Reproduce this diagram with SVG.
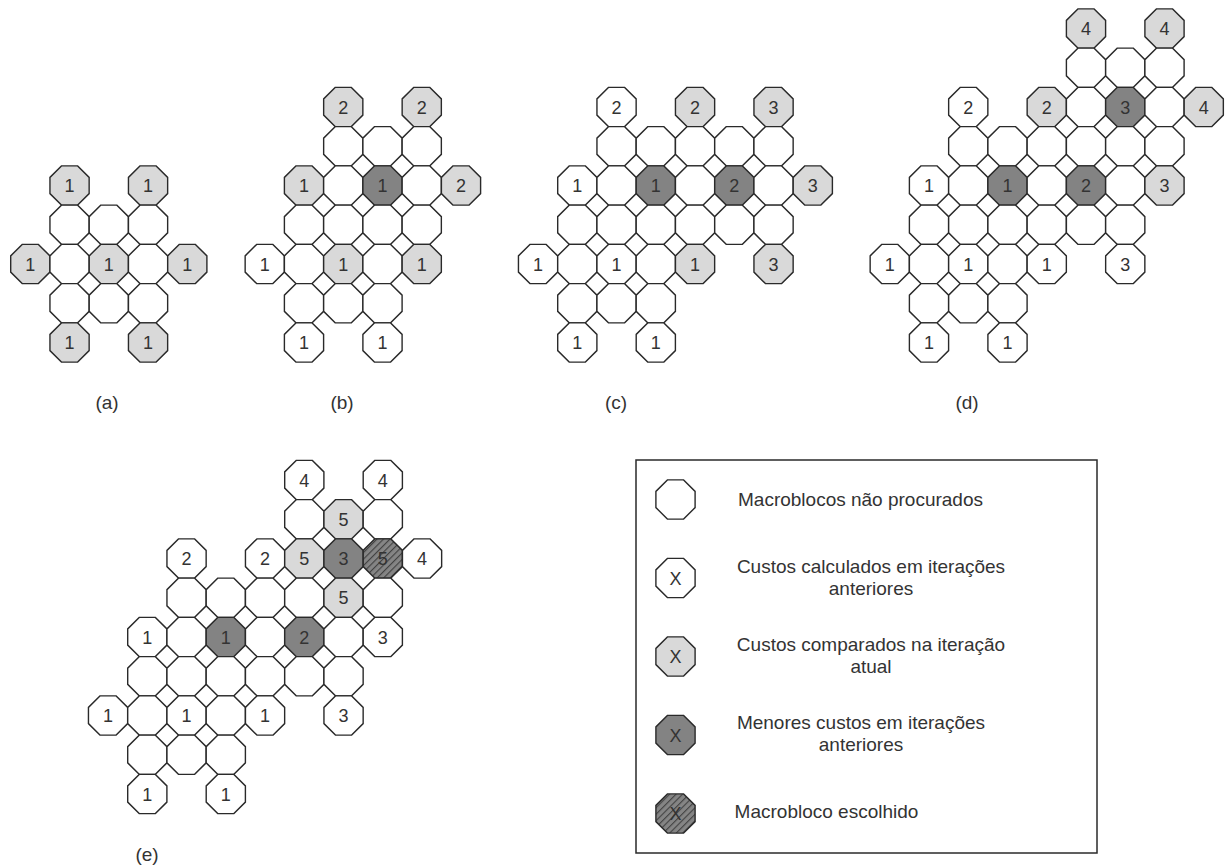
<svg xmlns="http://www.w3.org/2000/svg" xmlns:xlink="http://www.w3.org/1999/xlink" width="1225" height="866" viewBox="0 0 1225 866">
<style>
.w,.l,.d,.h{stroke:#2a2a2a;stroke-width:1.4;stroke-linejoin:miter}
.w{fill:#ffffff}.l{fill:#d9d9d9}.d{fill:#838383}.h{fill:url(#hatch)}
text{font-family:"Liberation Sans",Arial,sans-serif;fill:#333333;text-anchor:middle}
.n{font-size:18px}
.cap{font-size:19px}
.lg{font-size:19px}
</style>
<defs>
<polygon id="o" points="-8.1,-19.6 8.1,-19.6 19.6,-8.1 19.6,8.1 8.1,19.6 -8.1,19.6 -19.6,8.1 -19.6,-8.1"/>
<pattern id="hatch" patternUnits="userSpaceOnUse" width="4.6" height="4.6" patternTransform="rotate(45)">
<rect width="4.6" height="4.6" fill="#858585"/>
<line x1="0.6" y1="0" x2="0.6" y2="4.6" stroke="#3a3a3a" stroke-width="1"/>
</pattern>
</defs>
<rect width="1225" height="866" fill="#ffffff"/>
<g id="connectors"></g>

<!-- Panel (a) -->
<g id="panel-a">
<g id="a-r-2c-1" transform="translate(69.55,185.5)"><use href="#o" class="l"/><text class="n" y="6.5">1</text></g>
<g id="a-r-2c1" transform="translate(148.05,185.5)"><use href="#o" class="l"/><text class="n" y="6.5">1</text></g>
<g id="a-r-1c-1" transform="translate(69.55,224.75)"><use href="#o" class="w"/></g>
<g id="a-r-1c0" transform="translate(108.8,224.75)"><use href="#o" class="w"/></g>
<g id="a-r-1c1" transform="translate(148.05,224.75)"><use href="#o" class="w"/></g>
<g id="a-r0c-2" transform="translate(30.3,264)"><use href="#o" class="l"/><text class="n" y="6.5">1</text></g>
<g id="a-r0c-1" transform="translate(69.55,264)"><use href="#o" class="w"/></g>
<g id="a-r0c0" transform="translate(108.8,264)"><use href="#o" class="l"/><text class="n" y="6.5">1</text></g>
<g id="a-r0c1" transform="translate(148.05,264)"><use href="#o" class="w"/></g>
<g id="a-r0c2" transform="translate(187.3,264)"><use href="#o" class="l"/><text class="n" y="6.5">1</text></g>
<g id="a-r1c-1" transform="translate(69.55,303.25)"><use href="#o" class="w"/></g>
<g id="a-r1c0" transform="translate(108.8,303.25)"><use href="#o" class="w"/></g>
<g id="a-r1c1" transform="translate(148.05,303.25)"><use href="#o" class="w"/></g>
<g id="a-r2c-1" transform="translate(69.55,342.5)"><use href="#o" class="l"/><text class="n" y="6.5">1</text></g>
<g id="a-r2c1" transform="translate(148.05,342.5)"><use href="#o" class="l"/><text class="n" y="6.5">1</text></g>
<text id="cap-a" class="cap" x="107" y="409">(a)</text>
</g>

<!-- Panel (b) -->
<g id="panel-b">
<g id="b-r-2c-1" transform="translate(343.25,107)"><use href="#o" class="l"/><text class="n" y="6.5">2</text></g>
<g id="b-r-2c1" transform="translate(421.75,107)"><use href="#o" class="l"/><text class="n" y="6.5">2</text></g>
<g id="b-r-1c-1" transform="translate(343.25,146.25)"><use href="#o" class="w"/></g>
<g id="b-r-1c0" transform="translate(382.5,146.25)"><use href="#o" class="w"/></g>
<g id="b-r-1c1" transform="translate(421.75,146.25)"><use href="#o" class="w"/></g>
<g id="b-r0c-2" transform="translate(304,185.5)"><use href="#o" class="l"/><text class="n" y="6.5">1</text></g>
<g id="b-r0c-1" transform="translate(343.25,185.5)"><use href="#o" class="w"/></g>
<g id="b-r0c0" transform="translate(382.5,185.5)"><use href="#o" class="d"/><text class="n" y="6.5">1</text></g>
<g id="b-r0c1" transform="translate(421.75,185.5)"><use href="#o" class="w"/></g>
<g id="b-r0c2" transform="translate(461,185.5)"><use href="#o" class="l"/><text class="n" y="6.5">2</text></g>
<g id="b-r1c-2" transform="translate(304,224.75)"><use href="#o" class="w"/></g>
<g id="b-r1c-1" transform="translate(343.25,224.75)"><use href="#o" class="w"/></g>
<g id="b-r1c0" transform="translate(382.5,224.75)"><use href="#o" class="w"/></g>
<g id="b-r1c1" transform="translate(421.75,224.75)"><use href="#o" class="w"/></g>
<g id="b-r2c-3" transform="translate(264.75,264)"><use href="#o" class="w"/><text class="n" y="6.5">1</text></g>
<g id="b-r2c-2" transform="translate(304,264)"><use href="#o" class="w"/></g>
<g id="b-r2c-1" transform="translate(343.25,264)"><use href="#o" class="l"/><text class="n" y="6.5">1</text></g>
<g id="b-r2c0" transform="translate(382.5,264)"><use href="#o" class="w"/></g>
<g id="b-r2c1" transform="translate(421.75,264)"><use href="#o" class="l"/><text class="n" y="6.5">1</text></g>
<g id="b-r3c-2" transform="translate(304,303.25)"><use href="#o" class="w"/></g>
<g id="b-r3c-1" transform="translate(343.25,303.25)"><use href="#o" class="w"/></g>
<g id="b-r3c0" transform="translate(382.5,303.25)"><use href="#o" class="w"/></g>
<g id="b-r4c-2" transform="translate(304,342.5)"><use href="#o" class="w"/><text class="n" y="6.5">1</text></g>
<g id="b-r4c0" transform="translate(382.5,342.5)"><use href="#o" class="w"/><text class="n" y="6.5">1</text></g>
<text id="cap-b" class="cap" x="342" y="409">(b)</text>
</g>

<!-- Panel (c) -->
<g id="panel-c">
<g id="c-r-2c-1" transform="translate(616.55,107)"><use href="#o" class="w"/><text class="n" y="6.5">2</text></g>
<g id="c-r-2c1" transform="translate(695.05,107)"><use href="#o" class="l"/><text class="n" y="6.5">2</text></g>
<g id="c-r-2c3" transform="translate(773.55,107)"><use href="#o" class="l"/><text class="n" y="6.5">3</text></g>
<g id="c-r-1c-1" transform="translate(616.55,146.25)"><use href="#o" class="w"/></g>
<g id="c-r-1c0" transform="translate(655.8,146.25)"><use href="#o" class="w"/></g>
<g id="c-r-1c1" transform="translate(695.05,146.25)"><use href="#o" class="w"/></g>
<g id="c-r-1c2" transform="translate(734.3,146.25)"><use href="#o" class="w"/></g>
<g id="c-r-1c3" transform="translate(773.55,146.25)"><use href="#o" class="w"/></g>
<g id="c-r0c-2" transform="translate(577.3,185.5)"><use href="#o" class="w"/><text class="n" y="6.5">1</text></g>
<g id="c-r0c-1" transform="translate(616.55,185.5)"><use href="#o" class="w"/></g>
<g id="c-r0c0" transform="translate(655.8,185.5)"><use href="#o" class="d"/><text class="n" y="6.5">1</text></g>
<g id="c-r0c1" transform="translate(695.05,185.5)"><use href="#o" class="w"/></g>
<g id="c-r0c2" transform="translate(734.3,185.5)"><use href="#o" class="d"/><text class="n" y="6.5">2</text></g>
<g id="c-r0c3" transform="translate(773.55,185.5)"><use href="#o" class="w"/></g>
<g id="c-r0c4" transform="translate(812.8,185.5)"><use href="#o" class="l"/><text class="n" y="6.5">3</text></g>
<g id="c-r1c-2" transform="translate(577.3,224.75)"><use href="#o" class="w"/></g>
<g id="c-r1c-1" transform="translate(616.55,224.75)"><use href="#o" class="w"/></g>
<g id="c-r1c0" transform="translate(655.8,224.75)"><use href="#o" class="w"/></g>
<g id="c-r1c1" transform="translate(695.05,224.75)"><use href="#o" class="w"/></g>
<g id="c-r1c2" transform="translate(734.3,224.75)"><use href="#o" class="w"/></g>
<g id="c-r1c3" transform="translate(773.55,224.75)"><use href="#o" class="w"/></g>
<g id="c-r2c-3" transform="translate(538.05,264)"><use href="#o" class="w"/><text class="n" y="6.5">1</text></g>
<g id="c-r2c-2" transform="translate(577.3,264)"><use href="#o" class="w"/></g>
<g id="c-r2c-1" transform="translate(616.55,264)"><use href="#o" class="w"/><text class="n" y="6.5">1</text></g>
<g id="c-r2c0" transform="translate(655.8,264)"><use href="#o" class="w"/></g>
<g id="c-r2c1" transform="translate(695.05,264)"><use href="#o" class="l"/><text class="n" y="6.5">1</text></g>
<g id="c-r2c3" transform="translate(773.55,264)"><use href="#o" class="l"/><text class="n" y="6.5">3</text></g>
<g id="c-r3c-2" transform="translate(577.3,303.25)"><use href="#o" class="w"/></g>
<g id="c-r3c-1" transform="translate(616.55,303.25)"><use href="#o" class="w"/></g>
<g id="c-r3c0" transform="translate(655.8,303.25)"><use href="#o" class="w"/></g>
<g id="c-r4c-2" transform="translate(577.3,342.5)"><use href="#o" class="w"/><text class="n" y="6.5">1</text></g>
<g id="c-r4c0" transform="translate(655.8,342.5)"><use href="#o" class="w"/><text class="n" y="6.5">1</text></g>
<text id="cap-c" class="cap" x="616" y="409">(c)</text>
</g>

<!-- Panel (d) -->
<g id="panel-d">
<g id="d-r-4c2" transform="translate(1086,28.5)"><use href="#o" class="l"/><text class="n" y="6.5">4</text></g>
<g id="d-r-4c4" transform="translate(1164.5,28.5)"><use href="#o" class="l"/><text class="n" y="6.5">4</text></g>
<g id="d-r-3c2" transform="translate(1086,67.75)"><use href="#o" class="w"/></g>
<g id="d-r-3c3" transform="translate(1125.25,67.75)"><use href="#o" class="w"/></g>
<g id="d-r-3c4" transform="translate(1164.5,67.75)"><use href="#o" class="w"/></g>
<g id="d-r-2c-1" transform="translate(968.25,107)"><use href="#o" class="w"/><text class="n" y="6.5">2</text></g>
<g id="d-r-2c1" transform="translate(1046.75,107)"><use href="#o" class="l"/><text class="n" y="6.5">2</text></g>
<g id="d-r-2c2" transform="translate(1086,107)"><use href="#o" class="w"/></g>
<g id="d-r-2c3" transform="translate(1125.25,107)"><use href="#o" class="d"/><text class="n" y="6.5">3</text></g>
<g id="d-r-2c4" transform="translate(1164.5,107)"><use href="#o" class="w"/></g>
<g id="d-r-2c5" transform="translate(1203.75,107)"><use href="#o" class="l"/><text class="n" y="6.5">4</text></g>
<g id="d-r-1c-1" transform="translate(968.25,146.25)"><use href="#o" class="w"/></g>
<g id="d-r-1c0" transform="translate(1007.5,146.25)"><use href="#o" class="w"/></g>
<g id="d-r-1c1" transform="translate(1046.75,146.25)"><use href="#o" class="w"/></g>
<g id="d-r-1c2" transform="translate(1086,146.25)"><use href="#o" class="w"/></g>
<g id="d-r-1c3" transform="translate(1125.25,146.25)"><use href="#o" class="w"/></g>
<g id="d-r-1c4" transform="translate(1164.5,146.25)"><use href="#o" class="w"/></g>
<g id="d-r0c-2" transform="translate(929,185.5)"><use href="#o" class="w"/><text class="n" y="6.5">1</text></g>
<g id="d-r0c-1" transform="translate(968.25,185.5)"><use href="#o" class="w"/></g>
<g id="d-r0c0" transform="translate(1007.5,185.5)"><use href="#o" class="d"/><text class="n" y="6.5">1</text></g>
<g id="d-r0c1" transform="translate(1046.75,185.5)"><use href="#o" class="w"/></g>
<g id="d-r0c2" transform="translate(1086,185.5)"><use href="#o" class="d"/><text class="n" y="6.5">2</text></g>
<g id="d-r0c3" transform="translate(1125.25,185.5)"><use href="#o" class="w"/></g>
<g id="d-r0c4" transform="translate(1164.5,185.5)"><use href="#o" class="l"/><text class="n" y="6.5">3</text></g>
<g id="d-r1c-2" transform="translate(929,224.75)"><use href="#o" class="w"/></g>
<g id="d-r1c-1" transform="translate(968.25,224.75)"><use href="#o" class="w"/></g>
<g id="d-r1c0" transform="translate(1007.5,224.75)"><use href="#o" class="w"/></g>
<g id="d-r1c1" transform="translate(1046.75,224.75)"><use href="#o" class="w"/></g>
<g id="d-r1c2" transform="translate(1086,224.75)"><use href="#o" class="w"/></g>
<g id="d-r1c3" transform="translate(1125.25,224.75)"><use href="#o" class="w"/></g>
<g id="d-r2c-3" transform="translate(889.75,264)"><use href="#o" class="w"/><text class="n" y="6.5">1</text></g>
<g id="d-r2c-2" transform="translate(929,264)"><use href="#o" class="w"/></g>
<g id="d-r2c-1" transform="translate(968.25,264)"><use href="#o" class="w"/><text class="n" y="6.5">1</text></g>
<g id="d-r2c0" transform="translate(1007.5,264)"><use href="#o" class="w"/></g>
<g id="d-r2c1" transform="translate(1046.75,264)"><use href="#o" class="w"/><text class="n" y="6.5">1</text></g>
<g id="d-r2c3" transform="translate(1125.25,264)"><use href="#o" class="w"/><text class="n" y="6.5">3</text></g>
<g id="d-r3c-2" transform="translate(929,303.25)"><use href="#o" class="w"/></g>
<g id="d-r3c-1" transform="translate(968.25,303.25)"><use href="#o" class="w"/></g>
<g id="d-r3c0" transform="translate(1007.5,303.25)"><use href="#o" class="w"/></g>
<g id="d-r4c-2" transform="translate(929,342.5)"><use href="#o" class="w"/><text class="n" y="6.5">1</text></g>
<g id="d-r4c0" transform="translate(1007.5,342.5)"><use href="#o" class="w"/><text class="n" y="6.5">1</text></g>
<text id="cap-d" class="cap" x="967" y="409">(d)</text>
</g>

<!-- Panel (e) -->
<g id="panel-e">
<g id="e-r-4c2" transform="translate(304.3,480)"><use href="#o" class="w"/><text class="n" y="6.5">4</text></g>
<g id="e-r-4c4" transform="translate(382.8,480)"><use href="#o" class="w"/><text class="n" y="6.5">4</text></g>
<g id="e-r-3c2" transform="translate(304.3,519.25)"><use href="#o" class="w"/></g>
<g id="e-r-3c3" transform="translate(343.55,519.25)"><use href="#o" class="l"/><text class="n" y="6.5">5</text></g>
<g id="e-r-3c4" transform="translate(382.8,519.25)"><use href="#o" class="w"/></g>
<g id="e-r-2c-1" transform="translate(186.55,558.5)"><use href="#o" class="w"/><text class="n" y="6.5">2</text></g>
<g id="e-r-2c1" transform="translate(265.05,558.5)"><use href="#o" class="w"/><text class="n" y="6.5">2</text></g>
<g id="e-r-2c2" transform="translate(304.3,558.5)"><use href="#o" class="l"/><text class="n" y="6.5">5</text></g>
<g id="e-r-2c3" transform="translate(343.55,558.5)"><use href="#o" class="d"/><text class="n" y="6.5">3</text></g>
<g id="e-r-2c4" transform="translate(382.8,558.5)"><use href="#o" class="h"/><text class="n" y="6.5">5</text></g>
<g id="e-r-2c5" transform="translate(422.05,558.5)"><use href="#o" class="w"/><text class="n" y="6.5">4</text></g>
<g id="e-r-1c-1" transform="translate(186.55,597.75)"><use href="#o" class="w"/></g>
<g id="e-r-1c0" transform="translate(225.8,597.75)"><use href="#o" class="w"/></g>
<g id="e-r-1c1" transform="translate(265.05,597.75)"><use href="#o" class="w"/></g>
<g id="e-r-1c2" transform="translate(304.3,597.75)"><use href="#o" class="w"/></g>
<g id="e-r-1c3" transform="translate(343.55,597.75)"><use href="#o" class="l"/><text class="n" y="6.5">5</text></g>
<g id="e-r-1c4" transform="translate(382.8,597.75)"><use href="#o" class="w"/></g>
<g id="e-r0c-2" transform="translate(147.3,637)"><use href="#o" class="w"/><text class="n" y="6.5">1</text></g>
<g id="e-r0c-1" transform="translate(186.55,637)"><use href="#o" class="w"/></g>
<g id="e-r0c0" transform="translate(225.8,637)"><use href="#o" class="d"/><text class="n" y="6.5">1</text></g>
<g id="e-r0c1" transform="translate(265.05,637)"><use href="#o" class="w"/></g>
<g id="e-r0c2" transform="translate(304.3,637)"><use href="#o" class="d"/><text class="n" y="6.5">2</text></g>
<g id="e-r0c3" transform="translate(343.55,637)"><use href="#o" class="w"/></g>
<g id="e-r0c4" transform="translate(382.8,637)"><use href="#o" class="w"/><text class="n" y="6.5">3</text></g>
<g id="e-r1c-2" transform="translate(147.3,676.25)"><use href="#o" class="w"/></g>
<g id="e-r1c-1" transform="translate(186.55,676.25)"><use href="#o" class="w"/></g>
<g id="e-r1c0" transform="translate(225.8,676.25)"><use href="#o" class="w"/></g>
<g id="e-r1c1" transform="translate(265.05,676.25)"><use href="#o" class="w"/></g>
<g id="e-r1c2" transform="translate(304.3,676.25)"><use href="#o" class="w"/></g>
<g id="e-r1c3" transform="translate(343.55,676.25)"><use href="#o" class="w"/></g>
<g id="e-r2c-3" transform="translate(108.05,715.5)"><use href="#o" class="w"/><text class="n" y="6.5">1</text></g>
<g id="e-r2c-2" transform="translate(147.3,715.5)"><use href="#o" class="w"/></g>
<g id="e-r2c-1" transform="translate(186.55,715.5)"><use href="#o" class="w"/><text class="n" y="6.5">1</text></g>
<g id="e-r2c0" transform="translate(225.8,715.5)"><use href="#o" class="w"/></g>
<g id="e-r2c1" transform="translate(265.05,715.5)"><use href="#o" class="w"/><text class="n" y="6.5">1</text></g>
<g id="e-r2c3" transform="translate(343.55,715.5)"><use href="#o" class="w"/><text class="n" y="6.5">3</text></g>
<g id="e-r3c-2" transform="translate(147.3,754.75)"><use href="#o" class="w"/></g>
<g id="e-r3c-1" transform="translate(186.55,754.75)"><use href="#o" class="w"/></g>
<g id="e-r3c0" transform="translate(225.8,754.75)"><use href="#o" class="w"/></g>
<g id="e-r4c-2" transform="translate(147.3,794)"><use href="#o" class="w"/><text class="n" y="6.5">1</text></g>
<g id="e-r4c0" transform="translate(225.8,794)"><use href="#o" class="w"/><text class="n" y="6.5">1</text></g>
<text id="cap-e" class="cap" x="147" y="861">(e)</text>
</g>

<!-- Legend -->
<g id="legend">
<rect x="636" y="460" width="461" height="393" fill="#ffffff" stroke="#2a2a2a" stroke-width="1.5"/>
<g id="leg-1" transform="translate(675.5,499.5)"><use href="#o" class="w"/></g>
<text class="lg" x="860.5" y="506">Macroblocos não procurados</text>
<g id="leg-2" transform="translate(675.5,578)"><use href="#o" class="w"/><text class="n" y="6.5">X</text></g>
<text class="lg" x="871" y="573">Custos calculados em iterações</text>
<text class="lg" x="871" y="595">anteriores</text>
<g id="leg-3" transform="translate(675.5,656.5)"><use href="#o" class="l"/><text class="n" y="6.5">X</text></g>
<text class="lg" x="871" y="651">Custos comparados na iteração</text>
<text class="lg" x="871" y="673">atual</text>
<g id="leg-4" transform="translate(675.5,735)"><use href="#o" class="d"/><text class="n" y="6.5">X</text></g>
<text class="lg" x="861" y="729">Menores custos em iterações</text>
<text class="lg" x="861" y="751">anteriores</text>
<g id="leg-5" transform="translate(675.5,813.5)"><use href="#o" class="h"/><text class="n" y="6.5">X</text></g>
<text class="lg" x="826.5" y="818">Macrobloco escolhido</text>
</g>
</svg>
